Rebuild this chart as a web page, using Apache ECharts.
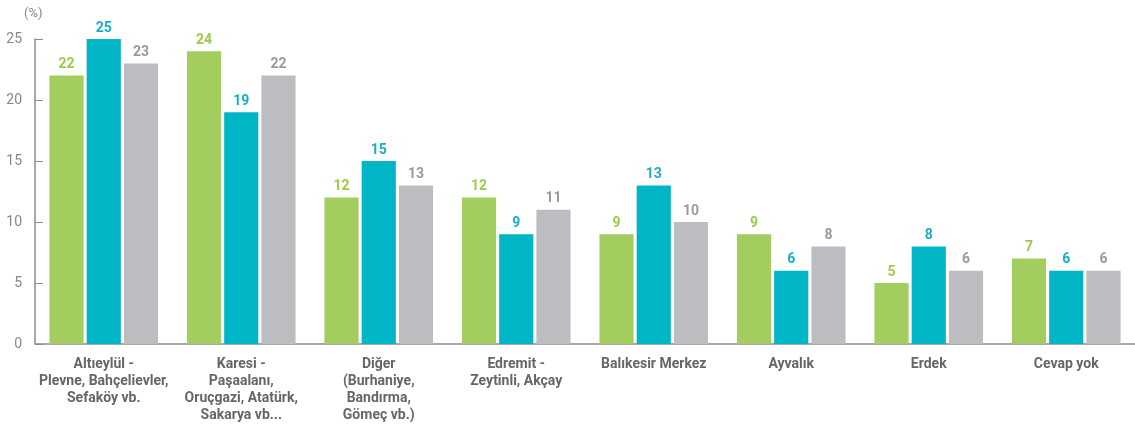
<!DOCTYPE html>
<html>
<head>
<meta charset="utf-8">
<script src="https://cdn.jsdelivr.net/npm/echarts@6/dist/echarts.min.js"></script>
<style>
  html, body { margin: 0; padding: 0; background: #fff; }
  #chart { width: 1135px; height: 434px; }
</style>
</head>
<body>
<div id="chart"></div>
<script>
const categories = [
  'Altıeylül -\nPlevne, Bahçelievler,\nSefaköy vb.',
  'Karesi -\nPaşaalanı,\nOruçgazi, Atatürk,\nSakarya vb...',
  'Diğer\n(Burhaniye,\nBandırma,\nGömeç vb.)',
  'Edremit -\nZeytinli, Akçay',
  'Balıkesir Merkez',
  'Ayvalık',
  'Erdek',
  'Cevap yok'
]
const greenValues = [22, 24, 12, 12, 9, 9, 5, 7]
const tealValues = [25, 19, 15, 9, 13, 6, 8, 6]
const grayValues = [23, 22, 13, 11, 10, 8, 6, 6]

const FONT = '"Liberation Sans Narrow", "Roboto", sans-serif'

const makeSeries = (name, data, color, labelColor) => ({
  name: name,
  type: 'bar',
  data: data,
  barGap: '9%',
  barCategoryGap: '21%',
  itemStyle: { color: color },
  label: {
    show: true,
    position: 'top',
    distance: 4,
    color: labelColor,
    fontFamily: FONT,
    fontSize: 14,
    fontWeight: 'bold'
  }
})

const chart = echarts.init(document.getElementById('chart'))
chart.setOption({
  animation: false,
  grid: { left: 35, right: 0, top: 39, bottom: 90 },
  graphic: [{
    type: 'text',
    left: 24,
    top: 7,
    style: { text: '(%)', fill: '#888', font: '13px ' + FONT }
  }],
  xAxis: {
    type: 'category',
    data: categories,
    axisLine: { lineStyle: { color: '#8c8c8c', width: 1.5 } },
    axisTick: { inside: true, length: 6, lineStyle: { color: '#8c8c8c' } },
    axisLabel: {
      color: '#666',
      fontFamily: FONT,
      fontSize: 14,
      fontWeight: 'bold',
      lineHeight: 17,
      margin: 12,
      interval: 0
    }
  },
  yAxis: {
    type: 'value',
    min: 0,
    max: 25,
    interval: 5,
    splitLine: { show: false },
    axisLine: { show: true, lineStyle: { color: '#8c8c8c', width: 1.5 } },
    axisTick: { show: true, inside: true, length: 8, lineStyle: { color: '#8c8c8c' } },
    axisLabel: { color: '#888', fontFamily: FONT, fontSize: 14, margin: 13 }
  },
  series: [
    makeSeries('s1', greenValues, '#a3cd5f', '#9ccb4a'),
    makeSeries('s2', tealValues, '#00b5c6', '#1aaec6'),
    makeSeries('s3', grayValues, '#bcbdc0', '#9a9a9e')
  ]
})
</script>
</body>
</html>
